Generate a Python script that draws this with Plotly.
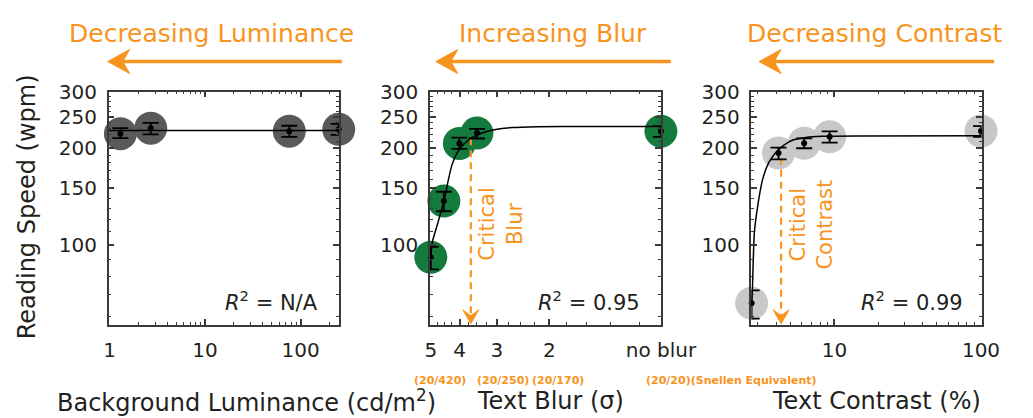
import math
import plotly.graph_objects as go

W, H = 1033, 418

# ---------------- data ----------------
lum = [1.3, 2.7, 76, 250]
lum_speed = [222, 231, 226, 229]
lum_hi = [231, 240, 235, 238]
lum_lo = [215, 221, 217, 220]
lum_fit_x = [0.98, 250]
lum_fit_y = [227, 227]

blur = [5.0, 4.52, 4.01, 3.5, 0.845]
blur_speed = [91.6, 137, 207, 223, 226]
blur_hi = [98.8, 146.5, 215.8, 229.9, 234.5]
blur_lo = [84, 127.4, 199, 214.5, 217]
blur_fit_x = [5.0, 4.94, 4.73, 4.48, 4.37, 4.24, 4.08, 3.88, 3.65, 3.35, 3.03, 2.68, 2.2, 1.5, 0.845]
blur_fit_y = [92, 102.3, 117.6, 141.5, 158.9, 178.2, 193.4, 205.8, 215.6, 223.6, 228.8, 231.9, 233.5, 233.8, 233.8]
critical_blur = 3.67
critical_blur_speed = 215

contrast = [2.72, 4.15, 6.21, 9.27, 100]
contrast_speed = [65.9, 193.4, 207.3, 217.1, 226.3]
contrast_hi = [72.3, 201.0, 214.6, 225.7, 234.5]
contrast_lo = [59.0, 184.6, 200.0, 208.2, 217.0]
contrast_fit_x = [2.72, 2.75, 2.84, 2.99, 3.22, 3.56, 3.95, 4.47, 5.2, 6.36, 8.18, 15, 100]
contrast_fit_y = [66, 72.3, 109.7, 132, 158.9, 180.4, 193.4, 203.9, 212.1, 216.1, 217.9, 218.5, 218.6]
critical_contrast = 4.32
critical_contrast_speed = 187

y_tickvals = [100, 150, 200, 250, 300]
y_minor = [60, 70, 80, 90, 110, 120, 130, 140, 160, 170, 180, 190, 210, 220, 230, 240, 260, 270, 280, 290]
y_range = [56.5, 300]

lum_tickvals = [1, 10, 100]
lum_minor = [2, 3, 4, 5, 6, 7, 8, 9, 20, 30, 40, 50, 60, 70, 80, 90, 200]
lum_range = [0.98, 251]

blur_tickvals = [5, 4, 3, 2, 0.845]
blur_ticktext = ["5", "4", "3", "2", "no blur"]
blur_minor = [4.75, 4.5, 4.25, 3.75, 3.5, 3.25, 2.75, 2.5, 2.25, 1.75, 1.5, 1.25, 1.0]
blur_range = [5.03, 0.843]

contrast_tickvals = [10, 100]
contrast_minor = [3, 4, 5, 6, 7, 8, 9, 20, 30, 40, 50, 60, 70, 80, 90]
contrast_range = [2.71, 101]

snellen = ["(20/420)", "(20/250)", "(20/170)", "(20/20)(Snellen Equivalent)"]

# ---------------- style ----------------
FONT = "DejaVu Sans"
TXT = "#231f20"
AX = "#3a3a3a"
ORANGE = "#F7941D"
C_LUM = "#5a5a5a"
C_BLUR = "#157a3d"
C_CON = "#c8c8c8"

def px(xp):
    return xp / W

def py(yp):
    return 1 - yp / H

fig = go.Figure()

panels = [
    ("x", "y", lum, lum_speed, lum_hi, lum_lo, lum_fit_x, lum_fit_y, C_LUM),
    ("x2", "y2", blur, blur_speed, blur_hi, blur_lo, blur_fit_x, blur_fit_y, C_BLUR),
    ("x3", "y3", contrast, contrast_speed, contrast_hi, contrast_lo, contrast_fit_x, contrast_fit_y, C_CON),
]

for xa, ya, xs, ys, hi, lo, fx, fy, col in panels:
    fig.add_trace(go.Scatter(x=xs, y=ys, mode="markers", xaxis=xa, yaxis=ya,
                             marker=dict(size=33, color=col, line=dict(width=0)),
                             cliponaxis=False, showlegend=False, hoverinfo="skip"))
    fig.add_trace(go.Scatter(x=fx, y=fy, mode="lines", xaxis=xa, yaxis=ya,
                             line=dict(color="black", width=1.5, shape="spline", smoothing=0.6),
                             showlegend=False, hoverinfo="skip"))

# critical dashed lines (drawn above circles)
fig.add_trace(go.Scatter(x=[critical_blur, critical_blur], y=[critical_blur_speed, 60.5],
                         mode="lines", xaxis="x2", yaxis="y2",
                         line=dict(color=ORANGE, width=2.2, dash="7px,5px"),
                         showlegend=False, hoverinfo="skip"))
fig.add_trace(go.Scatter(x=[critical_contrast, critical_contrast], y=[critical_contrast_speed, 60.5],
                         mode="lines", xaxis="x3", yaxis="y3",
                         line=dict(color=ORANGE, width=2.2, dash="7px,5px"),
                         showlegend=False, hoverinfo="skip"))

for xa, ya, xs, ys, hi, lo, fx, fy, col in panels:
    fig.add_trace(go.Scatter(x=xs, y=ys, mode="markers", xaxis=xa, yaxis=ya,
                             marker=dict(size=6, color="black"),
                             error_y=dict(type="data", symmetric=False,
                                          array=[h - m for h, m in zip(hi, ys)],
                                          arrayminus=[m - l for m, l in zip(ys, lo)],
                                          color="black", thickness=1.8, width=8),
                             cliponaxis=False, showlegend=False, hoverinfo="skip"))

PLOT_TOP, PLOT_BOT = 82, 322
y0, y1 = py(PLOT_BOT), py(PLOT_TOP)
dom_px = [(107, 347), (442, 683), (777, 1017)]
domains = [(px(a), px(b)) for a, b in dom_px]

def axis_common():
    return dict(showline=True, linecolor=AX, linewidth=1.5, mirror="ticks",
                ticks="inside", ticklen=6, tickwidth=1.5, tickcolor=AX,
                showgrid=False, zeroline=False, type="log",
                tickfont=dict(family=FONT, size=20, color=TXT),
                ticklabelstandoff=6)

def logr(r):
    return [math.log10(r[0]), math.log10(r[1])]

xcfg = [
    dict(tickvals=lum_tickvals, ticktext=[str(v) for v in lum_tickvals], range=logr(lum_range), minor_vals=lum_minor),
    dict(tickvals=blur_tickvals, ticktext=blur_ticktext, range=logr(blur_range), minor_vals=blur_minor),
    dict(tickvals=contrast_tickvals, ticktext=[str(v) for v in contrast_tickvals], range=logr(contrast_range), minor_vals=contrast_minor),
]

layout = dict(width=W, height=H, margin=dict(l=0, r=0, t=0, b=0),
              paper_bgcolor="white", plot_bgcolor="white", autosize=False)

for i, (dom, cfg) in enumerate(zip(domains, xcfg)):
    sfx = "" if i == 0 else str(i + 1)
    xa = axis_common()
    xa.update(domain=list(dom), anchor="y" + sfx, tickmode="array",
              tickvals=cfg["tickvals"], ticktext=cfg["ticktext"], range=cfg["range"],
              minor=dict(tickvals=cfg["minor_vals"], ticks="inside", ticklen=3,
                         tickwidth=1, tickcolor=AX))
    ya = axis_common()
    ya.update(domain=[y0, y1], anchor="x" + sfx, tickmode="array",
              tickvals=y_tickvals, ticktext=[str(v) for v in y_tickvals],
              range=logr(y_range),
              minor=dict(tickvals=y_minor, ticks="inside", ticklen=3, tickwidth=1, tickcolor=AX))
    layout["xaxis" + sfx] = xa
    layout["yaxis" + sfx] = ya

fig.update_layout(**layout)

ann = []
shapes = []
# top labels and arrows (line + stealth head drawn as shapes)
tops = [("Decreasing Luminance", 214, 106, 350),
        ("Increasing Blur", 570, 448, 693),
        ("Decreasing Contrast", 905, 785, 1030)]
for txt, cx, tip, tail in tops:
    ann.append(dict(text=txt, x=px(cx), y=py(22), xref="paper", yref="paper",
                    showarrow=False, xanchor="center", yanchor="middle",
                    font=dict(family=FONT, size=25, color=ORANGE)))
    shapes.append(dict(type="line", xref="paper", yref="paper",
                       x0=px(tip + 14), x1=px(tail), y0=py(51), y1=py(51),
                       line=dict(color=ORANGE, width=3.5)))
    shapes.append(dict(type="path", xref="paper", yref="paper",
                       xsizemode="pixel", ysizemode="pixel",
                       xanchor=px(tip), yanchor=py(51),
                       path="M0,0 L22,12 L15,0 L22,-12 Z",
                       fillcolor=ORANGE, line=dict(color=ORANGE, width=1)))

# critical arrowheads at the bottom of the dashed lines (position from the log axes)
def log_axis_px(val, rng, dom):
    lo, hi = math.log10(rng[0]), math.log10(rng[1])
    return dom[0] + (math.log10(val) - lo) / (hi - lo) * (dom[1] - dom[0])

for cval, rng, dom in [(critical_blur, blur_range, dom_px[1]),
                       (critical_contrast, contrast_range, dom_px[2])]:
    xc = log_axis_px(cval, rng, dom)
    shapes.append(dict(type="path", xref="paper", yref="paper",
                       xsizemode="pixel", ysizemode="pixel",
                       xanchor=px(xc), yanchor=py(PLOT_BOT),
                       path="M0,1 L-8,15 L0,9 L8,15 Z",
                       fillcolor=ORANGE, line=dict(color=ORANGE, width=1)))

# axis titles
titles = [("Background Luminance (cd/m<sup>2</sup>)", 251),
          ("Text Blur (σ)", 568),
          ("Text Contrast (%)", 907)]
for txt, cx in titles:
    ann.append(dict(text=txt, x=px(cx), y=py(401), xref="paper", yref="paper",
                    showarrow=False, xanchor="center", yanchor="middle",
                    font=dict(family=FONT, size=24, color=TXT)))

ann.append(dict(text="Reading Speed (wpm)", x=px(22), y=py(201), xref="paper", yref="paper",
                showarrow=False, textangle=-90, xanchor="center", yanchor="middle",
                font=dict(family=FONT, size=24, color=TXT)))

# R^2 labels
r2 = [("<i>R</i><sup>2</sup> = N/A", 327), ("<i>R</i><sup>2</sup> = 0.95", 663), ("<i>R</i><sup>2</sup> = 0.99", 1000)]
for txt, rx in r2:
    ann.append(dict(text=txt, x=px(rx), y=py(298), xref="paper", yref="paper",
                    showarrow=False, xanchor="right", yanchor="middle",
                    font=dict(family=FONT, size=21, color=TXT)))

# critical labels
ann.append(dict(text="Critical<br>Blur", x=px(516), y=py(219), xref="paper", yref="paper",
                showarrow=False, textangle=-90, xanchor="center", yanchor="middle",
                font=dict(family=FONT, size=21, color=ORANGE)))
ann.append(dict(text="Critical<br>Contrast", x=px(840), y=py(219), xref="paper", yref="paper",
                showarrow=False, textangle=-90, xanchor="center", yanchor="middle",
                font=dict(family=FONT, size=21, color=ORANGE)))

# Snellen equivalents
sn_pos = [452, 518, 575]
for txt, cx in zip(snellen[:3], sn_pos):
    ann.append(dict(text="<b>" + txt + "</b>", x=px(cx), y=py(379), xref="paper", yref="paper",
                    showarrow=False, xanchor="center", yanchor="middle",
                    font=dict(family=FONT, size=11, color=ORANGE)))
ann.append(dict(text="<b>" + snellen[3] + "</b>", x=px(665), y=py(379), xref="paper", yref="paper",
                showarrow=False, xanchor="left", yanchor="middle",
                font=dict(family=FONT, size=11, color=ORANGE)))

fig.update_layout(annotations=ann, shapes=shapes)
fig.write_html("out.html")
